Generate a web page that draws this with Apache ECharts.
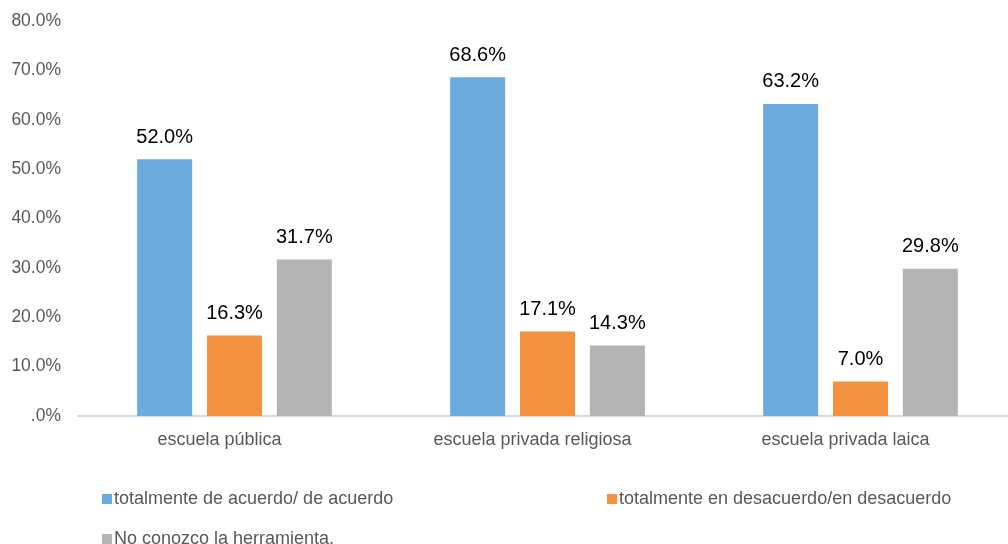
<!DOCTYPE html>
<html>
<head>
<meta charset="utf-8">
<script src="https://cdn.jsdelivr.net/npm/echarts@6/dist/echarts.min.js"></script>
<style>
  html, body { margin: 0; padding: 0; background: #fff; overflow: hidden; }
  #chart { width: 1024px; height: 544px; }
</style>
</head>
<body>
<div id="chart"></div>
<script>
// School types on the x axis
const categories = ['escuela pública', 'escuela privada religiosa', 'escuela privada laica'];

// Series names (percent of respondents)
const seriesNames = [
  'totalmente de acuerdo/ de acuerdo',
  'totalmente en desacuerdo/en desacuerdo',
  'No conozco la herramienta.'
];

const acuerdo = [52.0, 68.6, 63.2];
const desacuerdo = [16.3, 17.1, 7.0];
const noConozco = [31.7, 14.3, 29.8];

const colors = ['#6CABDD', '#F2913F', '#B4B4B4'];
const FONT = '"Liberation Sans", Arial, sans-serif';

const pct = v => (v === 0 ? '.0%' : v.toFixed(1) + '%');

function barSeries(name, data, color) {
  return {
    name: name,
    type: 'bar',
    data: data,
    barWidth: 55,
    barGap: '27%',
    itemStyle: { color: color },
    label: {
      show: true,
      position: 'top',
      distance: 12,
      color: '#000',
      fontFamily: FONT,
      fontSize: 20,
      formatter: p => pct(p.value)
    }
  };
}

function legendAt(name, left, top) {
  return {
    data: [name],
    left: left,
    top: top,
    icon: 'rect',
    itemWidth: 10,
    itemHeight: 10,
    selectedMode: false,
    textStyle: { color: '#595959', fontFamily: FONT, fontSize: 18, padding: [0, 0, 0, -3] }
  };
}

const chart = echarts.init(document.getElementById('chart'));
chart.setOption({
  animation: false,
  textStyle: { fontFamily: FONT },
  // the axis runs on past the right edge of the visible area
  grid: { left: 78, width: 939, top: 21, height: 395, containLabel: false },
  legend: [
    legendAt(seriesNames[0], 97, 485),
    legendAt(seriesNames[1], 602, 485),
    legendAt(seriesNames[2], 97, 525)
  ],
  xAxis: {
    type: 'category',
    data: categories,
    axisTick: { show: false },
    axisLine: { lineStyle: { color: '#D9D9D9', width: 2 } },
    axisLabel: { color: '#595959', fontSize: 18, margin: 15, fontFamily: FONT, padding: [0, 30, 0, 0] }
  },
  yAxis: {
    type: 'value',
    min: 0,
    max: 80,
    interval: 10,
    splitLine: { show: false },
    axisLine: { show: false },
    axisTick: { show: false },
    axisLabel: { color: '#595959', fontSize: 17.5, margin: 17, fontFamily: FONT, formatter: pct }
  },
  series: [
    barSeries(seriesNames[0], acuerdo, colors[0]),
    barSeries(seriesNames[1], desacuerdo, colors[1]),
    barSeries(seriesNames[2], noConozco, colors[2])
  ]
});
</script>
</body>
</html>
